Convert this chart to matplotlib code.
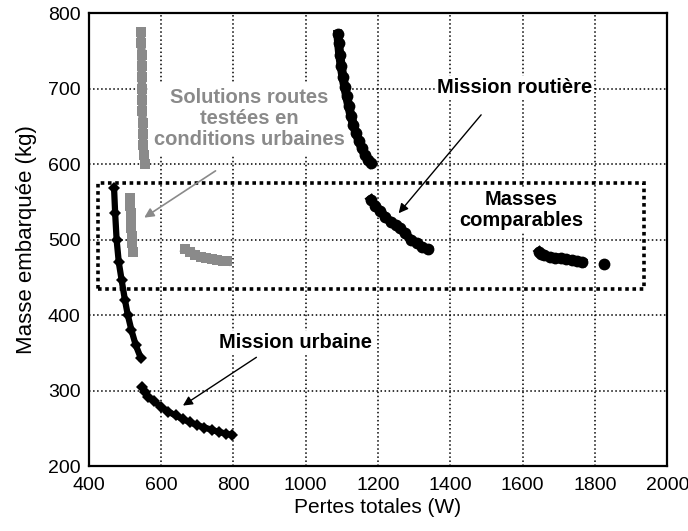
import matplotlib.pyplot as plt
from matplotlib.patches import Rectangle

plt.rcParams['font.family'] = ['Liberation Sans', 'DejaVu Sans']

# Mission urbaine (black diamonds), two branches
urb1_x = [470, 473, 477, 483, 491, 500, 508, 518, 530, 544]
urb1_y = [568, 535, 500, 470, 446, 420, 400, 380, 360, 343]
urb2_x = [547, 555, 565, 580, 600, 620, 640, 660, 680, 700, 720, 740, 760, 780, 796]
urb2_y = [305, 298, 292, 286, 278, 272, 267, 262, 258, 254, 251, 248, 245, 243, 241]

# Mission routiere (black circles)
rou1_x = [1089, 1091, 1094, 1098, 1103, 1108, 1113, 1119, 1125, 1132, 1139, 1147, 1155, 1164, 1172, 1180]
rou1_y = [772, 760, 745, 730, 715, 702, 690, 677, 664, 652, 641, 631, 621, 612, 606, 601]
rou2_x = [1180, 1192, 1205, 1220, 1235, 1250, 1261, 1275, 1290, 1308, 1322, 1338]
rou2_y = [553, 545, 538, 530, 523, 519, 515, 508, 500, 495, 490, 487]
rou3_x = [1645, 1650, 1660, 1675, 1690, 1705, 1720, 1735, 1750, 1765]
rou3_y = [484, 481, 479, 477, 476, 475, 474, 473, 472, 470]
rou4_x = [1825]
rou4_y = [468]

# Solutions routes testees en conditions urbaines (grey squares)
gr1_x = [544, 545, 546, 546, 547, 547, 548, 548, 549, 550, 551, 553, 555]
gr1_y = [775, 760, 745, 730, 715, 700, 685, 670, 655, 640, 625, 612, 600]
gr2_x = [513, 514, 516, 517, 518, 519, 520, 522]
gr2_y = [555, 545, 535, 525, 515, 505, 495, 484]
gr3_x = [666, 680, 695, 710, 725, 740, 755, 770, 782]
gr3_y = [487, 484, 480, 477, 475, 474, 473, 472, 471]

grey = '#8a8a8a'

fig = plt.figure(figsize=(6.88, 5.31), dpi=100)
ax = fig.add_axes([0.129, 0.1224, 0.841, 0.853])

ax.set_xlim(400, 2000)
ax.set_ylim(200, 800)
ax.set_xticks(range(400, 2001, 200))
ax.set_yticks(range(200, 801, 100))
ax.tick_params(length=0, labelsize=14)
ax.tick_params(axis='x', pad=8)
ax.tick_params(axis='y', pad=6)
for s in ax.spines.values():
    s.set_linewidth(1.6)
ax.set_axisbelow(True)
ax.grid(True, which='major', axis='both', color='black', linestyle=':', linewidth=1.1)

for xs, ys in [(urb1_x, urb1_y), (urb2_x, urb2_y)]:
    ax.plot(xs, ys, '-D', color='black', lw=4.5, ms=6.5, mew=0, zorder=4)
for xs, ys in [(rou1_x, rou1_y), (rou2_x, rou2_y), (rou3_x, rou3_y), (rou4_x, rou4_y)]:
    ax.plot(xs, ys, '-o', color='black', lw=6.5, ms=8.5, mew=0, zorder=4)
for xs, ys in [(gr1_x, gr1_y), (gr2_x, gr2_y), (gr3_x, gr3_y)]:
    ax.plot(xs, ys, '-s', color=grey, lw=6, ms=7, mew=0, zorder=4)

ax.add_patch(Rectangle((425, 435), 1510, 140, fill=False, edgecolor='black',
                       linewidth=2.6, linestyle=(0, (1, 1)), zorder=3))

bb = dict(facecolor='white', edgecolor='none', pad=1)
ax.text(1579, 702, 'Mission routière', ha='center', va='center', fontsize=14.5,
        fontweight='bold', bbox=bb, zorder=3.5)
ax.text(1596, 539, 'Masses\ncomparables', ha='center', va='center', fontsize=14.5,
        fontweight='bold', bbox=bb, linespacing=1.15, zorder=3.5)
ax.text(843, 660, 'Solutions routes\ntestées en\nconditions urbaines', ha='center',
        va='center', fontsize=14.5, fontweight='bold', color=grey,
        bbox=dict(facecolor='white', edgecolor='none', pad=4),
        linespacing=1.12, zorder=3.5)
ax.text(972, 364, 'Mission urbaine', ha='center', va='center', fontsize=14.5,
        fontweight='bold', bbox=bb, zorder=3.5)

ax.annotate('', xy=(547, 527), xytext=(757, 593),
            arrowprops=dict(arrowstyle='-|>', color=grey, lw=1.2, mutation_scale=14), zorder=5)
ax.annotate('', xy=(1252, 532), xytext=(1490, 668),
            arrowprops=dict(arrowstyle='-|>', color='black', lw=1.0, mutation_scale=14), zorder=5)
ax.annotate('', xy=(654, 278), xytext=(870, 346),
            arrowprops=dict(arrowstyle='-|>', color='black', lw=1.0, mutation_scale=14), zorder=5)

ax.set_xlabel('Pertes totales (W)', fontsize=15, labelpad=3)
ax.set_ylabel('Masse embarquée (kg)', fontsize=16, labelpad=8)

fig.savefig('out.png', dpi=100)
